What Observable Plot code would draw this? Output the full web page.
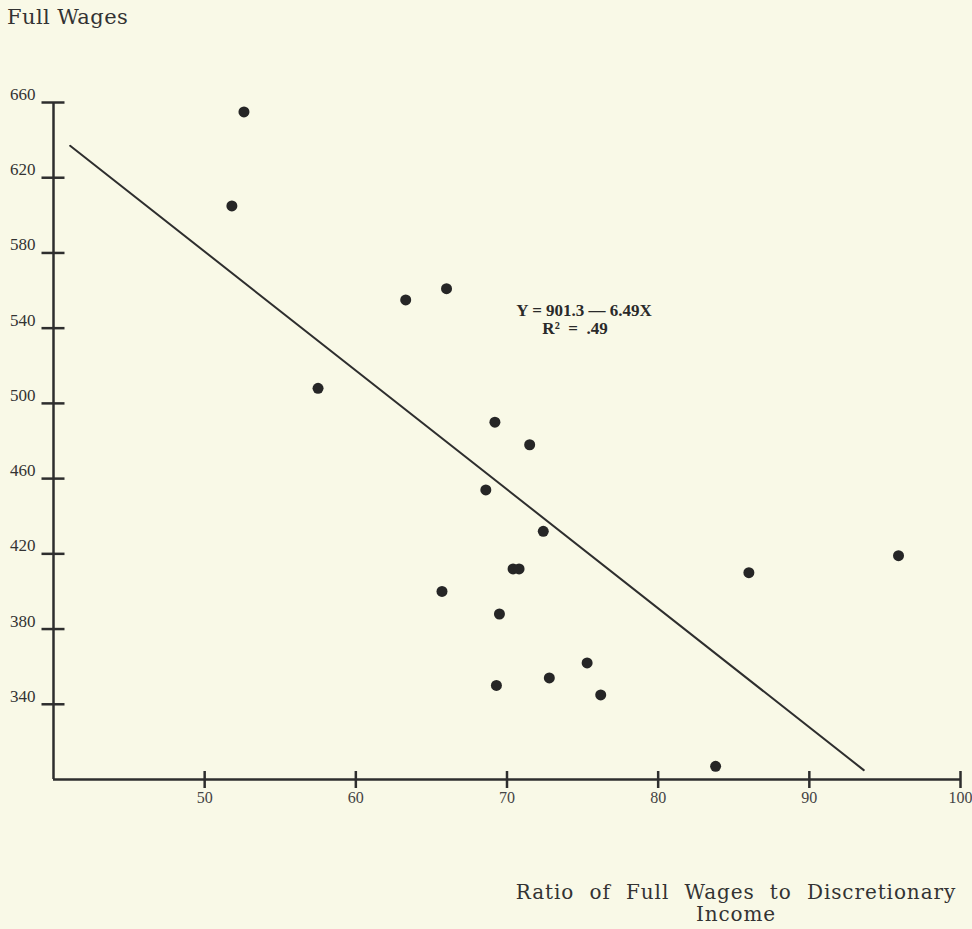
<!DOCTYPE html>
<html>
<head>
<meta charset="utf-8">
<script src="https://cdn.jsdelivr.net/npm/d3@7"></script>
<script src="https://cdn.jsdelivr.net/npm/@observablehq/plot@0.6"></script>
<style>
  html, body { margin: 0; padding: 0; background: #f9f9e7; }
  #wrap { position: relative; width: 972px; height: 929px; overflow: hidden; }
  .ttl { position: absolute; font-family: "DejaVu Serif", "Liberation Serif", serif; color: #333; white-space: nowrap; }
  #ytitle { left: 7px; top: 5px; font-size: 21px; letter-spacing: 0.4px; }
  #xtitle { left: 500px; width: 472px; top: 881px; font-size: 20px; text-align: center; line-height: 22px; word-spacing: 8px; letter-spacing: 0.9px; }
</style>
</head>
<body>
<div id="wrap">
  <div id="chart"></div>
  <div class="ttl" id="ytitle">Full Wages</div>
  <div class="ttl" id="xtitle">Ratio of Full Wages to Discretionary<br>Income</div>
</div>
<script>
const ratio = [52.6, 51.8, 57.5, 63.3, 66.0, 69.2, 71.5, 68.6, 72.4, 70.4, 70.8, 65.7, 69.5, 69.3, 72.8, 75.3, 76.2, 83.8, 86.0, 95.9];
const wages = [655, 605, 508, 555, 561, 490, 478, 454, 432, 412, 412, 400, 388, 350, 354, 362, 345, 307, 410, 419];

// Fitted line as drawn (endpoints)
const fitX = [41.1, 93.6];
const fitY = [637, 305];

// Annotation
const eqLines = ["Y = 901.3 — 6.49X", "R\u00b2\u00a0\u00a0=\u00a0\u00a0.49"];
const eqX = [75.1, 74.5];
const eqY = [549.5, 540];

// Axes
const xDomain = [40, 100];
const yDomain = [300, 660];
const xTicks = [50, 60, 70, 80, 90, 100];
const yTicks = [340, 380, 420, 460, 500, 540, 580, 620, 660];

const points = ratio.map((r, i) => ({x: r, y: wages[i]}));
const fit = fitX.map((x, i) => ({x, y: fitY[i]}));
const eq = eqLines.map((t, i) => ({t, x: eqX[i], y: eqY[i]}));

const ink = "#2e2e2e";

const chart = Plot.plot({
  width: 972,
  height: 929,
  marginLeft: 53,
  marginRight: 12,
  marginTop: 102,
  marginBottom: 150,
  style: {background: "transparent", fontFamily: "'Liberation Serif', serif", fontSize: "17px"},
  x: {domain: xDomain, axis: null},
  y: {domain: yDomain, axis: null},
  marks: [
    // axis lines
    Plot.ruleY([yDomain[0]], {stroke: ink, strokeWidth: 2.5}),
    Plot.ruleX([xDomain[0]], {stroke: ink, strokeWidth: 2.5}),
    // y ticks crossing the axis
    Plot.axisY({ticks: yTicks, tickSize: 23, dx: 11.5, tickFormat: () => "", stroke: ink, strokeWidth: 2.5, label: null}),
    // y tick labels
    Plot.text(yTicks, {y: d => d, frameAnchor: "left", dx: -18, dy: -8, textAnchor: "end", fontSize: 17, fill: "#333"}),
    // x ticks crossing the axis
    Plot.axisX({ticks: xTicks, tickSize: 17, dy: -8, tickFormat: () => "", stroke: ink, strokeWidth: 2.5, label: null}),
    // x tick labels
    Plot.text(xTicks, {x: d => d, frameAnchor: "bottom", dy: 23, fontSize: 16, fill: "#444"}),
    // regression line
    Plot.line(fit, {x: "x", y: "y", stroke: ink, strokeWidth: 2}),
    // points
    Plot.dot(points, {x: "x", y: "y", r: 5.5, fill: "#262626", stroke: "none"}),
    // equation
    Plot.text(eq, {x: "x", y: "y", text: "t", fontSize: 17, fontWeight: 600, fill: "#2a2a2a", textAnchor: "middle"})
  ]
});
document.getElementById("chart").appendChild(chart);
</script>
</body>
</html>
